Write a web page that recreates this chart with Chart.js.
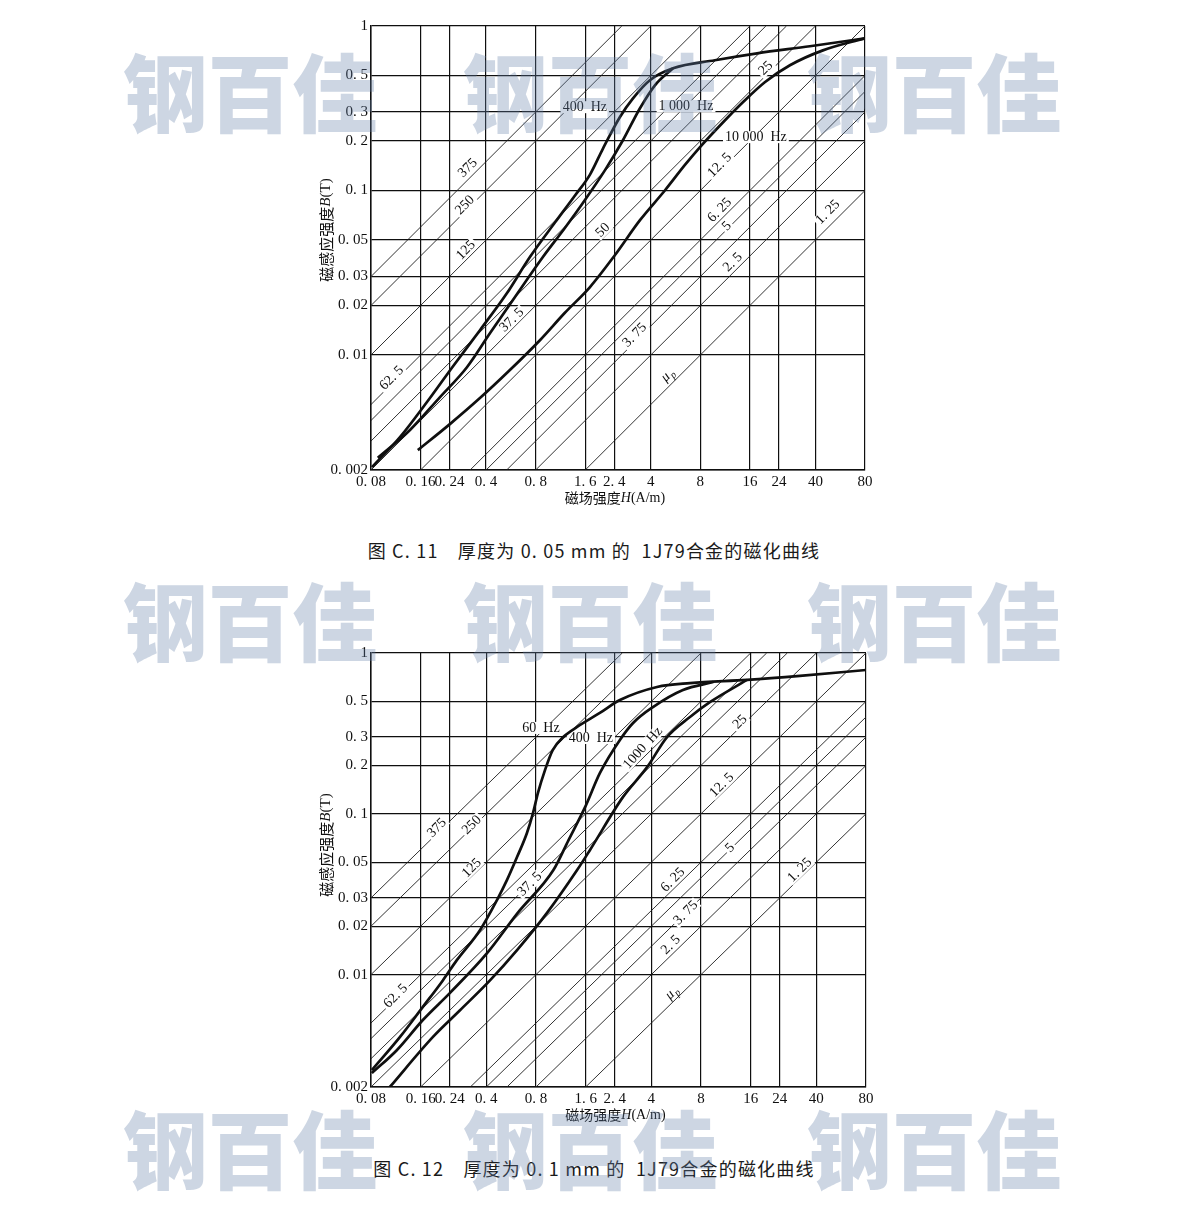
<!DOCTYPE html>
<html lang="zh">
<head>
<meta charset="utf-8">
<title>1J79合金的磁化曲线</title>
<script src="https://cdn.jsdelivr.net/npm/chart.js@4.4.1/dist/chart.umd.min.js"></script>
<style>
  html, body { margin: 0; padding: 0; background: #fff; }
  body { position: relative; width: 1188px; height: 1206px; overflow: hidden; }
  canvas { position: absolute; left: 0; }
  .cap { position: absolute; left: 0; width: 1188px; text-align: center; white-space: pre;
         font-family: "Noto Sans CJK SC", "Liberation Sans", sans-serif; font-size: 18px;
         letter-spacing: 1.2px; line-height: 24px; color: #1a1a1a; }
  .wm { position: absolute; width: 300px; text-align: center; white-space: nowrap;
        font-family: "Noto Sans CJK SC", sans-serif; font-weight: 900; font-size: 85px;
        line-height: 85px; color: rgba(98, 126, 169, 0.32); pointer-events: none; }
</style>
</head>
<body>
<canvas id="c11" width="1188" height="520" style="top:0"></canvas>
<div class="cap" style="top:538px">图 C. 11　厚度为 0. 05 mm 的  1J79合金的磁化曲线</div>
<canvas id="c12" width="1188" height="510" style="top:630px"></canvas>
<div class="cap" style="top:1156px">图 C. 12　厚度为 0. 1 mm 的  1J79合金的磁化曲线</div>
<script>
// 1J79 magnetization curves, log-log, H in A/m, B in T

const xTicks = [0.08, 0.16, 0.24, 0.4, 0.8, 1.6, 2.4, 4, 8, 16, 24, 40, 80];
const xTickLabels = ["0. 08", "0. 16", "0. 24", "0. 4", "0. 8", "1. 6", "2. 4", "4", "8", "16", "24", "40", "80"];
const yTicks = [0.002, 0.01, 0.02, 0.03, 0.05, 0.1, 0.2, 0.3, 0.5, 1];
const yTickLabels = ["0. 002", "0. 01", "0. 02", "0. 03", "0. 05", "0. 1", "0. 2", "0. 3", "0. 5", "1"];

// permeability lines (mH/m): B = mu/1000 * H
const muC11 = [375, 250, 125, 62.5, 50, 37.5, 25, 12.5, 6.25, 5, 3.75, 2.5, 1.25];
const muC12 = [375, 250, 125, 62.5, 50, 37.5, 25, 12.5, 6.25, 5, 3.75, 2.5, 1.25];

// fig C.11, 0.05 mm
const c11_400H = [0.081, 0.12, 0.175, 0.252, 0.367, 0.536, 0.738, 1.05, 1.39, 1.71, 2.05, 2.6, 3.12, 3.95, 5.46, 9.8, 17.7, 37, 80];
const c11_400B = [0.00208, 0.00317, 0.00518, 0.00855, 0.01415, 0.0238, 0.0394, 0.0641, 0.0935, 0.125, 0.18, 0.28, 0.363, 0.468, 0.553, 0.619, 0.682, 0.753, 0.842];
const c11_1000H = [0.088, 0.138, 0.21, 0.306, 0.423, 0.582, 0.885, 1.2, 1.59, 2.11, 2.71, 3.44, 4.24, 5.46];
const c11_1000B = [0.00237, 0.0035, 0.00555, 0.00843, 0.0136, 0.0216, 0.0394, 0.059, 0.0873, 0.133, 0.202, 0.316, 0.436, 0.553];
const c11_10000H = [0.154, 0.241, 0.367, 0.558, 0.849, 1.2, 1.71, 2.42, 3.44, 4.87, 6.45, 7.94, 11, 14.5, 19.7, 28, 44.4, 80];
const c11_10000B = [0.00264, 0.0038, 0.00547, 0.0081, 0.0123, 0.018, 0.0259, 0.0404, 0.066, 0.1, 0.143, 0.183, 0.26, 0.344, 0.455, 0.577, 0.711, 0.842];

// fig C.12, 0.1 mm
const c12_60H = [0.081, 0.12, 0.165, 0.218, 0.265, 0.366, 0.464, 0.534, 0.614, 0.705, 0.767, 0.822, 0.907, 1.01, 1.17, 1.42, 1.95, 2.58, 4.33, 6.86, 15.2, 31.8, 80];
const c12_60B = [0.00255, 0.0041, 0.0063, 0.0092, 0.0123, 0.0189, 0.0291, 0.0388, 0.0538, 0.076, 0.101, 0.135, 0.187, 0.249, 0.3, 0.347, 0.424, 0.51, 0.615, 0.65, 0.68, 0.72, 0.784];
const c12_400H = [0.081, 0.115, 0.165, 0.241, 0.404, 0.62, 1.02, 1.26, 1.6, 1.95, 2.58, 3.1, 4.09, 6.22, 9.5];
const c12_400B = [0.00244, 0.0034, 0.00522, 0.0077, 0.0136, 0.0242, 0.0447, 0.0687, 0.112, 0.179, 0.288, 0.367, 0.461, 0.589, 0.66];
const c12_1000H = [0.104, 0.19, 0.277, 0.421, 0.614, 0.933, 1.42, 1.7, 2.69, 3.77, 4.98, 6.86, 9.1, 15.2];
const c12_1000B = [0.002, 0.0041, 0.006, 0.0092, 0.0142, 0.0242, 0.0447, 0.0596, 0.127, 0.195, 0.3, 0.4, 0.496, 0.68];

// [text, H, B, angle]
const labelsC11 = [
  ["375", 0.31, 0.137, -45], ["250", 0.298, 0.0815, -45], ["125", 0.302, 0.0434, -45],
  ["62. 5", 0.107, 0.00724, -45], ["37. 5", 0.574, 0.0163, -45], ["50", 2.05, 0.0574, -45],
  ["25", 20, 0.553, -45], ["12. 5", 10.5, 0.1426, -45], ["6. 25", 10.5, 0.0759, -45],
  ["5", 11.6, 0.0607, -45], ["3. 75", 3.2, 0.0132, -45], ["2. 5", 12.6, 0.0366, -45],
  ["1. 25", 47.6, 0.0738, -45], ["μp", 5.08, 0.00755, -45],
  ["400  Hz", 1.59, 0.321, 0], ["1 000  Hz", 6.55, 0.325, 0], ["10 000  Hz", 17.4, 0.211, 0],
];
const labelsC12 = [
  ["375", 0.201, 0.0816, -45], ["250", 0.327, 0.0851, -45], ["125", 0.327, 0.046, -45],
  ["62. 5", 0.113, 0.00736, -45], ["37. 5", 0.735, 0.0365, -45], ["25", 13.8, 0.372, -45],
  ["12. 5", 10.7, 0.151, -45], ["5", 12, 0.0613, -45], ["6. 25", 5.41, 0.0388, -45],
  ["3. 75", 6.48, 0.0242, -45], ["2. 5", 5.26, 0.0153, -45], ["1. 25", 31.8, 0.0447, -45],
  ["μp", 5.33, 0.0077, -45],
  ["60  Hz", 0.857, 0.342, 0], ["400  Hz", 1.72, 0.296, 0], ["1000  Hz", 3.56, 0.257, -48],
];

const ink = "#0f0f0f";
const serif = "'Liberation Serif', 'DejaVu Serif', serif";
const cjk = "'Noto Sans CJK SC', sans-serif";

// labels go on top of the mu lines but under the curves
const makeLabels = (items, afterIndex) => ({
  id: "muLabels",
  afterDatasetDraw(chart, args) {
    if (args.index !== afterIndex) return;
    const ctx = chart.ctx;
    const xs = chart.scales.x;
    const ys = chart.scales.y;
    ctx.save();
    ctx.textAlign = "center";
    ctx.textBaseline = "middle";
    for (const [text, h, b, ang] of items) {
      ctx.save();
      ctx.translate(xs.getPixelForValue(h), ys.getPixelForValue(b));
      ctx.rotate((ang * Math.PI) / 180);
      ctx.font = "14px " + serif;
      const w = text === "μp" ? 14 : ctx.measureText(text).width;
      ctx.fillStyle = "#fff";
      ctx.fillRect(-w / 2 - 2, -6, w + 4, 12);
      ctx.fillStyle = ink;
      if (text === "μp") {
        ctx.font = "italic 14px " + serif;
        ctx.fillText("μ", -3, 0);
        ctx.font = "italic 10px " + serif;
        ctx.fillText("p", 4, 4);
      } else {
        ctx.fillText(text, 0, 0);
      }
      ctx.restore();
    }
    ctx.restore();
  },
});

// axis titles with italic symbol
const xTitleParts = [["磁场强度", "14px " + cjk], ["H", "italic 14px " + serif], ["(A/m)", "14px " + serif]];
const yTitleParts = [["磁感应强度", "15px " + cjk], ["B", "italic 15px " + serif], ["(T)", "15px " + serif]];

function drawParts(ctx, parts) {
  let total = 0;
  for (const [t, f] of parts) { ctx.font = f; total += ctx.measureText(t).width; }
  let cx = -total / 2;
  for (const [t, f] of parts) {
    ctx.font = f;
    ctx.fillText(t, cx, 0);
    cx += ctx.measureText(t).width;
  }
}

const makeTitles = (yShift) => ({
  id: "axisTitles",
  afterDraw(chart) {
    const { ctx, chartArea: a } = chart;
    ctx.save();
    ctx.fillStyle = ink;
    ctx.textAlign = "left";
    ctx.textBaseline = "middle";
    ctx.save();
    ctx.translate((a.left + a.right) / 2 - 3, a.bottom + 28);
    drawParts(ctx, xTitleParts);
    ctx.restore();
    ctx.save();
    ctx.translate(a.left - 45, (a.top + a.bottom) / 2 + yShift);
    ctx.rotate(-Math.PI / 2);
    drawParts(ctx, yTitleParts);
    ctx.restore();
    ctx.restore();
  },
});

function buildChart(id, curves, mus, labels, pad, yShift) {
  const datasets = [];
  for (const [H, B] of curves) {
    datasets.push({
      data: H.map((h, i) => ({ x: h, y: B[i] })),
      borderColor: ink,
      borderWidth: 2.7,
      pointRadius: 0,
      showLine: true,
      cubicInterpolationMode: "monotone",
      order: 1,
    });
  }
  for (const mu of mus) {
    const k = mu / 1000;
    const h0 = Math.max(xTicks[0], yTicks[0] / k);
    const h1 = Math.min(xTicks[xTicks.length - 1], yTicks[yTicks.length - 1] / k);
    datasets.push({
      data: [{ x: h0, y: k * h0 }, { x: h1, y: k * h1 }],
      borderColor: "#1c1c1c",
      borderWidth: 0.9,
      pointRadius: 0,
      showLine: true,
      order: 2,
    });
  }

  return new Chart(document.getElementById(id), {
    type: "scatter",
    data: { datasets },
    options: {
      responsive: false,
      animation: false,
      devicePixelRatio: 1,
      layout: { padding: pad },
      plugins: { legend: { display: false }, tooltip: { enabled: false } },
      scales: {
        x: {
          type: "logarithmic",
          min: 0.08,
          max: 80,
          afterBuildTicks: (s) => { s.ticks = xTicks.map((v) => ({ value: v })); },
          afterFit: (s) => { s.height = 36; },
          ticks: {
            autoSkip: false, maxRotation: 0, minRotation: 0, padding: 3, color: ink,
            font: { family: serif, size: 15 },
            callback: (v, i) => xTickLabels[i],
          },
          grid: { color: ink, lineWidth: 1.2, drawTicks: false },
          border: { color: ink, width: 1.5 },
        },
        y: {
          type: "logarithmic",
          min: 0.002,
          max: 1,
          afterBuildTicks: (s) => { s.ticks = yTicks.map((v) => ({ value: v })); },
          afterFit: (s) => { s.width = 53; },
          ticks: {
            autoSkip: false, padding: 3, color: ink,
            font: { family: serif, size: 15 },
            callback: (v, i) => yTickLabels[i],
          },
          grid: { color: ink, lineWidth: 1.2, drawTicks: false },
          border: { color: ink, width: 1.5 },
        },
      },
    },
    plugins: [makeLabels(labels, curves.length), makeTitles(yShift)],
  });
}

buildChart("c11",
  [[c11_400H, c11_400B], [c11_1000H, c11_1000B], [c11_10000H, c11_10000B]],
  muC11, labelsC11, { left: 318, right: 323, top: 26, bottom: 14 }, -18);

buildChart("c12",
  [[c12_60H, c12_60B], [c12_400H, c12_400B], [c12_1000H, c12_1000B]],
  muC12, labelsC12, { left: 318, right: 322, top: 23, bottom: 17 }, -25);

// watermark
for (const cy of [88, 617, 1145]) {
  for (const cx of [250, 590, 934]) {
    const d = document.createElement("div");
    d.className = "wm";
    d.textContent = "钢百佳";
    d.style.left = cx - 150 + "px";
    d.style.top = cy - 42 + "px";
    document.body.appendChild(d);
  }
}
</script>
</body>
</html>
